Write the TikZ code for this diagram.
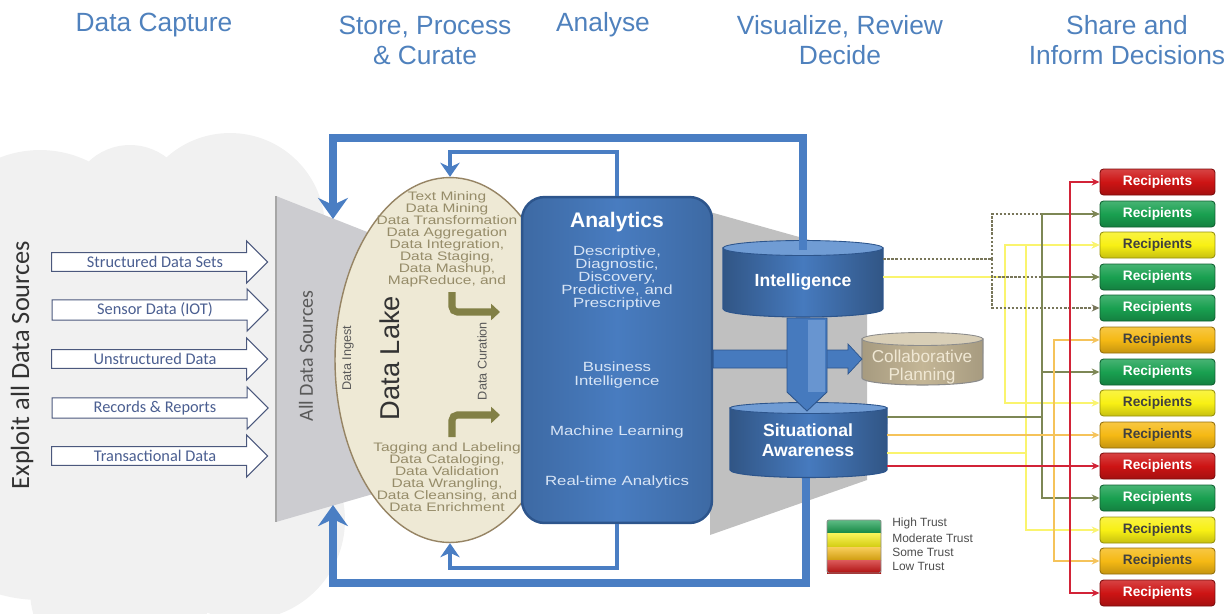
\documentclass[tikz,border=0pt]{standalone}
\usepackage{fontspec}
\setmainfont{Liberation Sans}
\newfontfamily\calfont{Carlito}
\newfontfamily\widesans[FakeStretch=1.26]{Liberation Sans}
\newcommand\tightlines{\lineskiplimit=-20pt\relax}
\usetikzlibrary{shapes.geometric, shapes.arrows, arrows.meta, positioning}

\definecolor{headblue}{RGB}{79,129,189}
\definecolor{cloudgray}{RGB}{241,241,241}
\definecolor{srcedge}{RGB}{75,88,125}
\definecolor{srctext}{RGB}{75,95,145}
\definecolor{funnelgray}{RGB}{204,204,208}
\definecolor{shadegray}{RGB}{192,192,192}
\definecolor{lakefill}{RGB}{238,233,213}
\definecolor{lakeedge}{RGB}{150,132,100}
\definecolor{laketext}{RGB}{150,140,105}
\definecolor{curegreen}{RGB}{130,128,70}
\definecolor{loopblue}{RGB}{74,126,195}
\definecolor{anablue}{RGB}{72,124,192}
\definecolor{anaedge}{RGB}{45,85,140}
\definecolor{anatext}{RGB}{215,228,245}
\definecolor{cylblue}{RGB}{70,122,190}
\definecolor{cyltop}{RGB}{112,156,212}
\definecolor{tanfill}{RGB}{196,182,150}
\definecolor{tantop}{RGB}{216,206,182}
\definecolor{tantext}{RGB}{240,232,212}
\definecolor{rred}{RGB}{205,20,20}
\definecolor{rgreen}{RGB}{25,160,80}
\definecolor{ryellow}{RGB}{248,240,20}
\definecolor{rorange}{RGB}{245,185,20}
\definecolor{lred}{RGB}{210,35,55}
\definecolor{lolive}{RGB}{125,135,85}
\definecolor{ldash}{RGB}{120,118,90}
\definecolor{lyellow}{RGB}{250,244,110}
\definecolor{lorange}{RGB}{245,195,90}

\tikzset{
  headtxt/.style={text=headblue, font=\fontsize{15}{17}\selectfont, inner sep=0pt},
  srcarrow/.style={single arrow, draw=srcedge, fill=white, line width=0.6pt,
    minimum height=4.32cm, minimum width=0.84cm, single arrow head extend=0.2cm,
    inner ysep=1pt, text=srctext, font=\calfont\fontsize{9.3}{11}\selectfont},
  laketxt/.style={text=laketext, align=center, font=\widesans\fontsize{7}{6.8}\selectfont\tightlines, inner sep=0pt},
  anatxt/.style={text=anatext, align=center, font=\widesans\fontsize{7.6}{7.4}\selectfont\tightlines, inner sep=0pt},
  cyllabel/.style={text=white, align=center, font=\bfseries\fontsize{10}{11.5}\selectfont, inner sep=0pt},
  cylbody/.style={draw=anaedge, line width=0.6pt, left color=cylblue!70!black, right color=cylblue!70!black, middle color=cylblue},
  outerloop/.style={loopblue, line width=4.5pt, -{Stealth[width=17pt,length=12pt,inset=4pt]}},
  innerloop/.style={loopblue, line width=2.8pt, -{Stealth[width=11pt,length=8pt,inset=2.5pt]}},
  curearrow/.style={curegreen, line width=4pt, rounded corners=3pt, -{Triangle[width=9pt,length=5pt]}},
  recip/.style={draw=#1!60!black, line width=0.5pt, rounded corners=2pt, top color=#1!80!white,
    bottom color=#1!80!black, middle color=#1, minimum width=2.3cm, minimum height=0.52cm,
    font=\bfseries\fontsize{7.8}{9}\selectfont},
  feed/.style={line width=1.3pt, -{Stealth[length=4.5pt,width=4pt]}},
  legtxt/.style={anchor=west, text=black!70, font=\fontsize{6.8}{8}\selectfont, inner sep=0pt}
}

\begin{document}
\begin{tikzpicture}[x=0.02cm, y=-0.02cm]
\useasboundingbox (0,0) rectangle (1228,613);

% stage headings
\node[headtxt] (hcap) at (154,25) {Data Capture};
\node[headtxt, align=center] (hstore) at (425,40) {Store, Process\\\& Curate};
\node[headtxt] (hana) at (603,25) {Analyse};
\node[headtxt, align=center] (hvis) at (840,40) {Visualize, Review\\Decide};
\node[headtxt, align=center] (hshare) at (1127,40) {Share and\\Inform Decisions};

% cloud of sources
\fill[cloudgray] (40,260) circle[radius=2.2cm] (130,205) circle[radius=1.2cm]
  (230,228) circle[radius=1.9cm] (40,450) circle[radius=3cm] (170,420) circle[radius=3cm]
  (245,520) circle[radius=2cm] (120,590) circle[radius=1.8cm];
\node[rotate=90, text=black!80, font=\calfont\fontsize{15}{18}\selectfont] (exploit) at (22,365) {Exploit all Data Sources};

% funnel and shaded zone
\fill[funnelgray] (276,196) -- (380,237) -- (380,492) -- (276,522) -- cycle;
\draw[black!35, line width=0.8pt] (276,196) -- (276,522);
\fill[shadegray] (710,212) -- (867,256) -- (867,480) -- (710,535) -- cycle;

% source arrows
\node[srcarrow] (src1) at (155,262) {Structured Data Sets};
\node[srcarrow] (src2) at (155,310) {Sensor Data (IOT)};
\node[srcarrow] (src3) at (155,359) {Unstructured Data};
\node[srcarrow] (src4) at (155,408) {Records \& Reports};
\node[srcarrow] (src5) at (155,456) {Transactional Data};
\node[rotate=90, text=black!65, font=\calfont\fontsize{11.4}{13}\selectfont] (allsrc) at (306,356) {All Data Sources};

% data lake
\node[ellipse, draw=lakeedge, line width=0.8pt, fill=lakefill, minimum width=4.6cm, minimum height=7.3cm] (lake) at (450,360) {};
\node[laketxt] (laketop) at (447,239) {Text Mining\\Data Mining\\Data Transformation\\Data Aggregation\\Data Integration,\\Data Staging,\\Data Mashup,\\MapReduce, and};
\node[laketxt] (lakebot) at (447,477) {Tagging and Labeling\\Data Cataloging,\\Data Validation\\Data Wrangling,\\Data Cleansing, and\\Data Enrichment};
\node[rotate=90, text=black!80, font=\fontsize{15.5}{18}\selectfont] (lakename) at (390,358) {Data Lake};
\node[rotate=90, text=black!65, font=\fontsize{7.2}{8}\selectfont] (ingest) at (348,358) {Data Ingest};
\node[rotate=90, text=black!65, font=\fontsize{7.2}{8}\selectfont] (curation) at (482,361) {Data Curation};
\draw[curearrow] (452,292) -- (452,312) -- (500,312);
\draw[curearrow] (452,437) -- (452,415) -- (500,415);

% analytics
\node[draw=anaedge, line width=1.4pt, rounded corners=0.45cm, left color=anablue!85!black, right color=anablue!85!black, middle color=anablue,
  minimum width=3.8cm, minimum height=6.52cm] (ana) at (617,360) {};
\node[text=white, font=\bfseries\fontsize{12}{14}\selectfont, inner sep=0pt] (anatitle) at (617,222) {Analytics};
\node[anatxt] (anatypes) at (617,278) {Descriptive,\\Diagnostic,\\Discovery,\\Predictive, and\\Prescriptive};
\node[anatxt, font=\widesans\fontsize{7.6}{8.2}\selectfont\tightlines] (anabi) at (617,375) {Business\\Intelligence};
\node[anatxt] (anaml) at (617,432) {Machine Learning};
\node[anatxt] (anart) at (617,482) {Real-time Analytics};

% feedback loops
\coordinate (topin) at (450,152);
\coordinate (topout) at (333,138);
\coordinate (funtop) at (333,219);
\coordinate (botin) at (450,568);
\coordinate (botout) at (333,583);
\coordinate (funbot) at (333,505);
\coordinate (intcap) at (803,250);
\coordinate (sacap) at (806,472);
\draw[outerloop] (intcap) |- (topout) -- (funtop);
\draw[outerloop] (sacap) |- (botout) -- (funbot);
\draw[innerloop] (ana.north) |- (topin) -- (lake.north);
\draw[innerloop] (ana.south) |- (botin) -- (lake.south);

% situational awareness
\draw[cylbody] (730,408) -- (730,470) arc[start angle=180, end angle=360, x radius=1.57cm, y radius=0.15cm] -- (887,408) -- cycle;
\fill[cyltop, draw=anaedge, line width=0.5pt] (808.5,408) ellipse[x radius=1.57cm, y radius=0.11cm];
\node[cyllabel, minimum width=3.14cm] (sa) at (808,440) {Situational\\Awareness};

% intelligence
\draw[cylbody] (723,248) -- (723,309) arc[start angle=180, end angle=360, x radius=1.6cm, y radius=0.16cm] -- (883,248) -- cycle;
\fill[cyltop, draw=anaedge, line width=0.5pt] (803,248) ellipse[x radius=1.6cm, y radius=0.15cm];
\draw[loopblue, line width=4.5pt] (intcap) -- (803,180);
\node[cyllabel, minimum width=3.2cm] (intel) at (803,282) {Intelligence};

% collaborative planning
\draw[draw=black!45, line width=0.6pt, left color=tanfill!85!black, right color=tanfill!85!black, middle color=tanfill]
  (862,339) -- (862,378) arc[start angle=180, end angle=360, x radius=1.21cm, y radius=0.14cm] -- (983,339) -- cycle;
\fill[tantop, draw=black!45, line width=0.5pt] (922.5,339) ellipse[x radius=1.21cm, y radius=0.13cm];
\node[text=tantext, align=center, font=\fontsize{9.8}{10}\selectfont, inner sep=0pt] (collab) at (922,367) {Collaborative\\Planning};

% block arrows between analytics, intelligence, awareness and planning
\fill[cylblue, draw=anaedge, line width=0.4pt] (ana.east |- 0,350) -- (848,350) -- (848,344) -- (862,359) -- (848,374) -- (848,368) -- (ana.east |- 0,368) -- cycle;
\fill[cylblue, draw=anaedge, line width=0.5pt] (787,318) -- (787,392) -- (807,411) -- (827,392) -- (827,318) -- cycle;
\fill[cyltop!80!cylblue] (808,320) rectangle (825,392);

% recipients
\node[recip=rred, text=white] (r0) at (1157.5,182) {Recipients};
\node[recip=rgreen, text=white] (r1) at (1157.5,214) {Recipients};
\node[recip=ryellow, text=black!75] (r2) at (1157.5,245) {Recipients};
\node[recip=rgreen, text=white] (r3) at (1157.5,277) {Recipients};
\node[recip=rgreen, text=white] (r4) at (1157.5,308) {Recipients};
\node[recip=rorange, text=black!75] (r5) at (1157.5,340) {Recipients};
\node[recip=rgreen, text=white] (r6) at (1157.5,372) {Recipients};
\node[recip=ryellow, text=black!75] (r7) at (1157.5,403) {Recipients};
\node[recip=rorange, text=black!75] (r8) at (1157.5,435) {Recipients};
\node[recip=rred, text=white] (r9) at (1157.5,466) {Recipients};
\node[recip=rgreen, text=white] (r10) at (1157.5,498) {Recipients};
\node[recip=ryellow, text=black!75] (r11) at (1157.5,530) {Recipients};
\node[recip=rorange, text=black!75] (r12) at (1157.5,561) {Recipients};
\node[recip=rred, text=white] (r13) at (1157.5,593) {Recipients};

% distribution lines
\coordinate (yelA) at (1005,277);
\coordinate (yelB) at (1026,453);
\coordinate (dashj) at (992,259);
\coordinate (olj) at (1042,417);
\coordinate (orgj) at (1054,435);
\coordinate (redj) at (1070,466);
\draw[lyellow, line width=1.3pt] (intel.east |- yelA) -- (yelA);
\draw[feed, lyellow] (yelA) |- (r2.west);
\draw[feed, lyellow] (yelA) |- (r7.west);
\draw[lyellow, line width=1.3pt] (sa.east |- yelB) -- (yelB);
\draw[feed, lyellow] (yelB) |- (r2.west);
\draw[feed, lyellow] (yelB) |- (r11.west);
\draw[ldash, line width=1.3pt, densely dotted] (intel.east |- dashj) -- (dashj);
\draw[feed, ldash, densely dotted] (dashj) |- (r1.west);
\draw[feed, ldash, densely dotted] (dashj) |- (r3.west);
\draw[feed, ldash, densely dotted] (dashj) |- (r4.west);
\draw[lolive, line width=1.3pt] (sa.east |- olj) -- (olj);
\draw[feed, lolive] (olj) |- (r1.west);
\draw[feed, lolive] (olj) |- (r3.west);
\draw[feed, lolive] (olj) |- (r6.west);
\draw[feed, lolive] (olj) |- (r10.west);
\draw[feed, lorange] (sa.east |- orgj) -- (r8.west);
\draw[feed, lorange] (orgj) |- (r5.west);
\draw[feed, lorange] (orgj) |- (r12.west);
\draw[feed, lred] (sa.east |- redj) -- (r9.west);
\draw[feed, lred] (redj) |- (r0.west);
\draw[feed, lred] (redj) |- (r13.west);

% trust legend
\fill[top color=rgreen!70!white, bottom color=rgreen!85!black] (827,520) rectangle (881,533);
\fill[top color=ryellow!70!white, bottom color=ryellow!85!black] (827,533) rectangle (881,547);
\fill[top color=rorange!70!white, bottom color=rorange!85!black] (827,547) rectangle (881,560);
\fill[top color=rred!70!white, bottom color=rred!85!black] (827,560) rectangle (881,573);
\draw[black!45, line width=0.5pt, rounded corners=1pt] (827,520) rectangle (881,573);
\node[legtxt] (lhigh) at (892,523) {High Trust};
\node[legtxt] (lmod) at (892,538) {Moderate Trust};
\node[legtxt] (lsome) at (892,552) {Some Trust};
\node[legtxt] (llow) at (892,566) {Low Trust};
\end{tikzpicture}
\end{document}
